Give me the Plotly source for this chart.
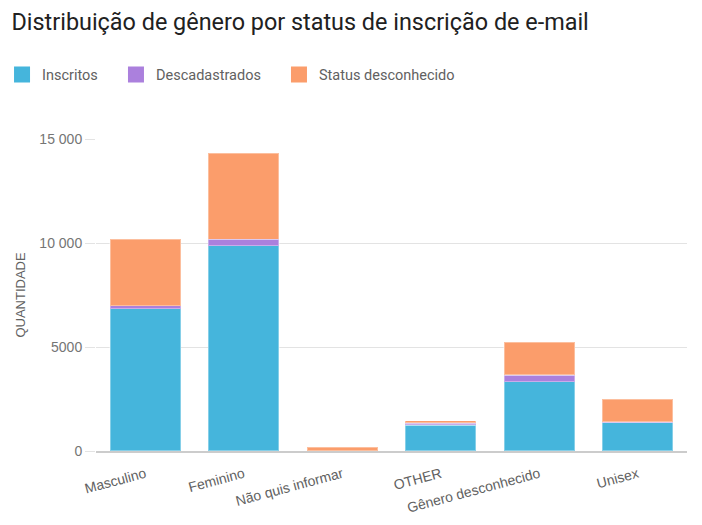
import plotly.graph_objects as go

categories = ["Masculino", "Feminino", "Não quis informar", "OTHER", "Gênero desconhecido", "Unisex"]
inscritos = [6840, 9870, 0, 1250, 3330, 1370]
descadastrados = [150, 300, 0, 100, 320, 20]
status_desconhecido = [3180, 4140, 190, 110, 1600, 1120]
series_names = ["Inscritos", "Descadastrados", "Status desconhecido"]
colors = ["#45B5DC", "#AB80DD", "#FB9D6B"]
y_tickvals = [0, 5000, 10000, 15000]
y_ticktext = ["0", "5000", "10 000", "15 000"]

title_font = "Roboto, sans-serif"
tick_font = "Liberation Sans, Arial, sans-serif"

legend_ids = ["legend", "legend2", "legend3"]
legend_x_paper = [-0.159, 0.0338, 0.3096]

fig = go.Figure()
for name, vals, col, lid in zip(series_names, [inscritos, descadastrados, status_desconhecido], colors, legend_ids):
    fig.add_trace(go.Bar(
        x=categories, y=vals, name=name,
        marker=dict(color=col, line=dict(color="rgba(255,255,255,0.35)", width=1.5)),
        showlegend=False, hoverinfo="x+y+name"))
    fig.add_trace(go.Scatter(
        x=[None], y=[None], mode="markers", name=name, legend=lid,
        marker=dict(symbol="square", size=20, color=col), showlegend=True))

legend_common = dict(orientation="h", xref="paper", yref="container", y=1 - 66.5 / 525,
                     xanchor="left", yanchor="middle",
                     font=dict(family=title_font, size=14.5, color="#616161"), itemclick=False)
layout_legends = {lid: dict(legend_common, x=xp) for lid, xp in zip(legend_ids, legend_x_paper)}

fig.update_layout(
    width=702, height=525,
    margin=dict(l=88, r=23, t=131, b=82, autoexpand=False),
    paper_bgcolor="white", plot_bgcolor="white",
    barmode="stack", bargap=0.28,
    title=dict(text="Distribuição de gênero por status de inscrição de e-mail",
               font=dict(family=title_font, size=23.4, color="#212121"),
               xref="container", x=0.005, xanchor="left",
               yref="container", y=1 - 14 / 525, yanchor="middle"),
    xaxis=dict(type="category", categoryorder="array", categoryarray=categories,
               tickangle=-15, showgrid=False, showline=True, linecolor="#cccccc",
               linewidth=1.5, ticks="", range=[-0.5, 5.5], ticklabelstandoff=8,
               tickfont=dict(family=tick_font, size=14, color="#616161")),
    yaxis=dict(range=[0, 15000], tickvals=y_tickvals, ticktext=y_ticktext,
               gridcolor="#e3e3e3", gridwidth=1, zeroline=False, showline=False,
               ticks="outside", ticklen=10, tickcolor="#e3e3e3",
               tickfont=dict(family=tick_font, size=14, color="#757575"),
               title=dict(text="QUANTIDADE", standoff=10,
                          font=dict(family=tick_font, size=13, color="#616161"))),
    **layout_legends,
)

fig.write_html("out.html")
